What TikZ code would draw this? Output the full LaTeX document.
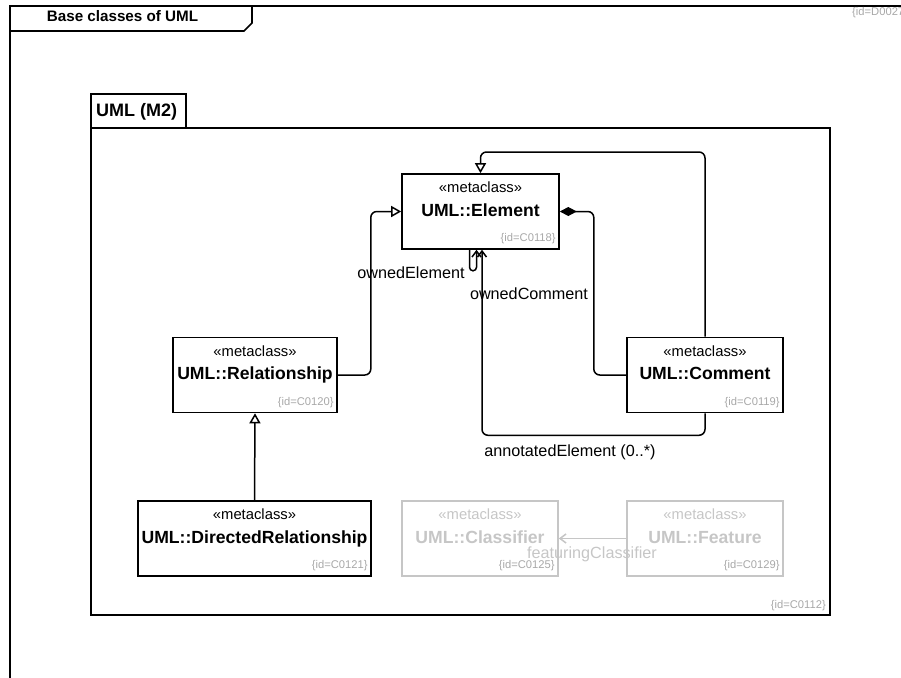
\documentclass[tikz,border=0pt]{standalone}
\usepackage{fontspec}
\setmainfont{Liberation Sans}
\usetikzlibrary{arrows.meta,calc}
\definecolor{idgray}{RGB}{168,168,168}
\definecolor{ghost}{RGB}{198,198,198}

% one metaclass box: [colour] name, centre, width, class name, id
\newcommand\umlmeta[6][black]{%
  \node[classbox, draw=#1, minimum width=#4, minimum height=75pt] (#2) at (#3) {};
  \node[stereo, text=#1, anchor=base] (#2-st) at ($(#2.north)+(0,19.5)$) {«metaclass»};
  \node[cname, text=#1, anchor=base] (#2-nm) at ($(#2.north)+(0,43)$) {#5};
  \node[idtag, anchor=base east] (#2-id) at ($(#2.south east)+(-4,-8)$) {\{id=#6\}};
}

\begin{document}
\begin{tikzpicture}[x=1pt,y=-1pt,
  frameline/.style={line width=1.7pt},
  classbox/.style={rectangle, line width=1.6pt, inner sep=0pt},
  stereo/.style={font=\fontsize{14.8}{16}\selectfont, inner sep=0pt},
  cname/.style={font=\fontsize{17.6}{20}\selectfont\bfseries, inner sep=0pt},
  idtag/.style={font=\fontsize{11.2}{12}\selectfont, text=idgray, inner sep=0pt},
  rolelabel/.style={font=\fontsize{16.2}{18}\selectfont, inner sep=0pt, anchor=base},
  conn/.style={line width=1.5pt, rounded corners=6pt},
  gen/.style={conn, -{Triangle[open,length=10pt,width=11pt]}},
  assoc/.style={conn, -{Straight Barb[length=6pt,width=9pt]}},
  comp/.style={conn, {Diamond[length=17pt,width=9pt]}-},
]
\useasboundingbox (0,0) rectangle (901,677);
\clip (0,0) rectangle (901,677);

% diagram frame with its name tab
\draw[frameline] (10,690) -- (10,6) -- (920,6);
\draw[frameline] (252,6) -- (252,23) -- (244,31) -- (10,31);
\node[font=\fontsize{15.2}{17}\selectfont\bfseries, inner sep=0pt, anchor=base] (title) at (122.5,21.5) {Base classes of UML};
\node[idtag, anchor=base west] (diagid) at (852,16) {\{id=D0027\}};

% package UML (M2)
\draw[frameline] (91,128) rectangle (186,94);
\draw[frameline] (91,128) rectangle (830,615);
\node[font=\fontsize{18}{20}\selectfont\bfseries, inner sep=0pt, anchor=base west] (pkg) at (96,116.5) {UML (M2)};
\node[idtag, anchor=base east] (pkgid) at (826,608) {\{id=C0112\}};

% metaclasses
\umlmeta{elem}{480.5,211.5}{157pt}{UML::Element}{C0118}
\umlmeta{rel}{255,375}{164pt}{UML::Relationship}{C0120}
\umlmeta{com}{705,375}{156pt}{UML::Comment}{C0119}
\umlmeta{drel}{254.5,538.5}{233pt}{UML::DirectedRelationship}{C0121}
\umlmeta[ghost]{clsf}{480,538.5}{156pt}{UML::Classifier}{C0125}
\umlmeta[ghost]{feat}{705,538.5}{156pt}{UML::Feature}{C0129}

% generalizations
\draw[gen] (rel.east) -- ++(33,0) |- (elem.west);
\draw[gen] (drel.north) -- (rel.south);
\coordinate (topbend) at (480.5,152);
\draw[gen] (com.north) |- (topbend) -- (elem.north);

% ownedComment composition
\draw[comp] (elem.east) -- ++(34,0) |- (com.west);
\node[rolelabel] (lblComment) at (529,299) {ownedComment};

% ownedElement self association
\draw[assoc, rounded corners=3.5pt] ([xshift=-11pt]elem.south) -- ++(0,21) -| ([xshift=-4pt]elem.south);
\node[rolelabel] (lblElement) at (411,278) {ownedElement};

% annotatedElement
\draw[assoc] (com.south) -- ++(0,22) -| ([xshift=1.5pt]elem.south);
\node[rolelabel] (lblAnnot) at (570,456.5) {annotatedElement (0..*)};

% featuringClassifier
\draw[assoc, draw=ghost, rounded corners=0pt] (feat.west) -- (clsf.east);
\node[rolelabel, text=ghost] (lblFeat) at (592,558) {featuringClassifier};
\end{tikzpicture}
\end{document}
